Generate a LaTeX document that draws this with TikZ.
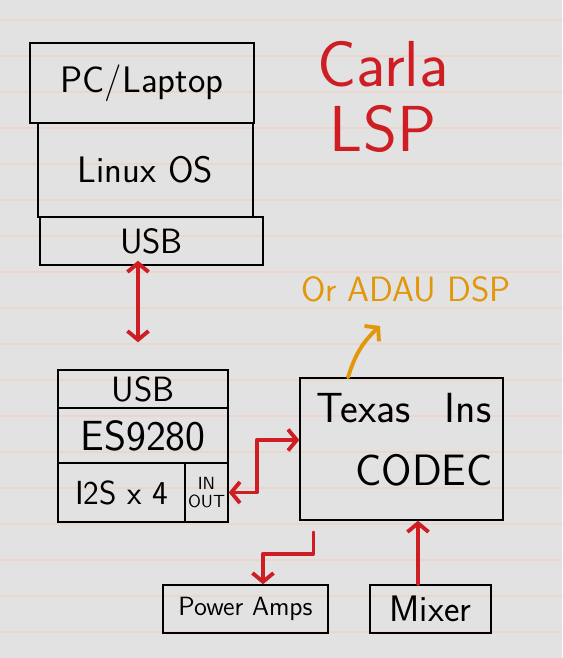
\documentclass[tikz,border=0pt]{standalone}
\usepackage{tikz}
\usetikzlibrary{arrows.meta,positioning}

\definecolor{penred}{RGB}{206,30,36}
\definecolor{penorange}{RGB}{226,150,10}
\definecolor{paper}{RGB}{226,226,226}
\definecolor{ruling}{RGB}{234,214,204}

\begin{document}
\begin{tikzpicture}[
        x=0.02cm, y=-0.02cm,
        >={Straight Barb[length=5pt,width=12pt]},
        block/.style={rectangle, draw=black, line width=0.8pt, inner sep=0pt},
        hand/.style={font=\sffamily\fontsize{#1}{#1}\selectfont},
        link/.style={draw=penred, line width=2.2pt, line cap=round, line join=round},
        hint/.style={draw=penorange, line width=2.2pt, line cap=round, line join=round}
    ]
        % lined paper
        \fill[paper] (0,0) rectangle (562,658);
        \useasboundingbox (0,0) rectangle (562,658);
        \foreach \i in {0,...,17}
            \draw[ruling, line width=0.6pt] (0,{20+36*\i}) -- (562,{20+36*\i});

        % host side
        \node[block, hand=21, minimum width=4.48cm, minimum height=1.6cm] (pc) at (142,83) {PC/Laptop};
        \node[block, hand=21, minimum width=4.3cm, minimum height=1.88cm] (linux) at (145.5,170) {Linux OS};
        \node[block, hand=20, minimum width=4.46cm, minimum height=0.96cm] (usbpc) at (151.5,241) {USB};
        \node[hand=37, text=penred, align=center] (carla) at (383,97) {Carla\\LSP};

        % interface
        \node[block, hand=20, minimum width=3.4cm, minimum height=0.76cm] (usbes) at (143,389) {USB};
        \node[block, hand=24, minimum width=3.4cm, minimum height=1.1cm] (chip) at (143,435.5) {ES9280};
        \node[block, hand=19, minimum width=2.54cm, minimum height=1.18cm] (i2s) at (121.5,492.5) {I2S x 4};
        \node[block, hand=10, align=center, minimum width=0.86cm, minimum height=1.18cm] (inout) at (206.5,492.5) {IN\\OUT};

        % codec and outputs
        \node[block, minimum width=4.06cm, minimum height=2.84cm] (codec) at (401.5,449) {};
        \node[hand=24] (texas) at (404,408) {Texas\hspace{0.5em} Ins};
        \node[hand=25] (codecname) at (424,470) {CODEC};
        \node[hand=20, text=penorange] (adau) at (406,289) {Or ADAU DSP};
        \node[block, hand=15, minimum width=3.3cm, minimum height=0.96cm] (amps) at (245.5,609) {Power Amps};
        \node[block, hand=21, minimum width=2.42cm, minimum height=0.96cm] (mixer) at (430.5,609) {Mixer};

        \draw[link, <->] ([xshift=-0.27cm, yshift=0.1cm]usbpc.south) -- ([xshift=-0.1cm, yshift=0.54cm]usbes.north);
        \draw[link, <->] (inout.east) -- ++(28,0) |- ([yshift=0.18cm]codec.west);
        \draw[link, ->] ([xshift=-1.76cm, yshift=-0.24cm]codec.south) -- ++(0,21) -| ([xshift=0.35cm]amps.north);
        \draw[link, ->] ([xshift=-0.25cm]mixer.north) -- ([xshift=0.33cm]codec.south);
        \draw[hint, ->] ([xshift=-1.07cm]codec.north) to[bend left=15] ([xshift=-0.52cm, yshift=-0.74cm]adau.center);
    \end{tikzpicture}
\end{document}
